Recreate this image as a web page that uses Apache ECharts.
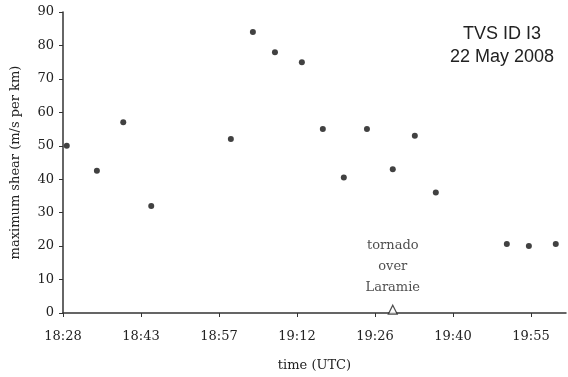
<!DOCTYPE html>
<html>
<head>
<meta charset="utf-8">
<script src="https://cdn.jsdelivr.net/npm/echarts@6/dist/echarts.min.js"></script>
<style>
  html, body { margin: 0; padding: 0; background: #fff; }
  #chart { width: 568px; height: 377px; }
</style>
</head>
<body>
<div id="chart"></div>
<script>
// minutes after 18:28 UTC
var timeMin = [0.7, 6.3, 11.2, 16.4, 31.2, 35.3, 39.4, 44.4, 48.3, 52.2, 56.5, 61.3, 65.4, 69.3, 82.5, 86.6, 91.6];
var shear = [50, 42.5, 57, 32, 52, 84, 78, 75, 55, 40.5, 55, 43, 53, 36, 20.6, 20, 20.6];
var tickLabels = ['18:28', '18:43', '18:57', '19:12', '19:26', '19:40', '19:55'];
var tornadoTime = [61.3];
var tornadoVal = [1];

var chart = echarts.init(document.getElementById('chart'));
var serif = '"DejaVu Serif", "Liberation Serif", serif';

var pts = timeMin.map(function(t, i) { return [t, shear[i]]; });
var tor = tornadoTime.map(function(t, i) { return [t, tornadoVal[i]]; });

var option = {
    animation: false,
    backgroundColor: '#fff',
    grid: { left: 63, right: 2, top: 12, bottom: 64 },
    title: {
        text: 'TVS ID I3\n22 May 2008',
        left: 497,
        top: 18,
        textAlign: 'center',
        textStyle: {
            fontFamily: '"Liberation Sans", Arial, sans-serif',
            fontWeight: 'normal',
            fontSize: 18,
            lineHeight: 23,
            color: '#222'
        }
    },
    xAxis: {
        type: 'value',
        min: 0,
        max: 93.5,
        interval: 14.5,
        name: 'time (UTC)',
        nameLocation: 'middle',
        nameGap: 46,
        nameTextStyle: { fontFamily: serif, fontSize: 13, color: '#222' },
        splitLine: { show: false },
        axisLine: { lineStyle: { color: '#333', width: 1.5 } },
        axisTick: { length: 4, lineStyle: { color: '#333' } },
        axisLabel: {
            fontFamily: serif, fontSize: 13, color: '#222', margin: 17,
            showMaxLabel: false,
            formatter: function(v) {
                var i = Math.round(v / 14.5);
                return tickLabels[i] || '';
            }
        }
    },
    yAxis: {
        type: 'value',
        min: 0,
        max: 90,
        interval: 10,
        name: 'maximum shear (m/s per km)',
        nameLocation: 'middle',
        nameGap: 41,
        nameTextStyle: { fontFamily: serif, fontSize: 13, color: '#222' },
        splitLine: { show: false },
        axisLine: { show: true, lineStyle: { color: '#333', width: 1.5 } },
        axisTick: { show: true, length: 4, lineStyle: { color: '#333' } },
        axisLabel: { fontFamily: serif, fontSize: 13, color: '#222', margin: 9 }
    },
    series: [
        {
            name: 'shear',
            type: 'scatter',
            data: pts,
            symbol: 'circle',
            symbolSize: 6,
            itemStyle: { color: '#111' }
        },
        {
            name: 'tornado',
            type: 'scatter',
            data: tor,
            symbol: 'triangle',
            symbolSize: 9,
            itemStyle: { color: '#fff', borderColor: '#222', borderWidth: 1.2 },
            label: {
                show: true,
                position: 'top',
                distance: 6,
                formatter: 'tornado\nover\nLaramie',
                fontFamily: serif,
                fontSize: 13,
                lineHeight: 21,
                color: '#222'
            }
        }
    ]
};

chart.setOption(option);
</script>
</body>
</html>
